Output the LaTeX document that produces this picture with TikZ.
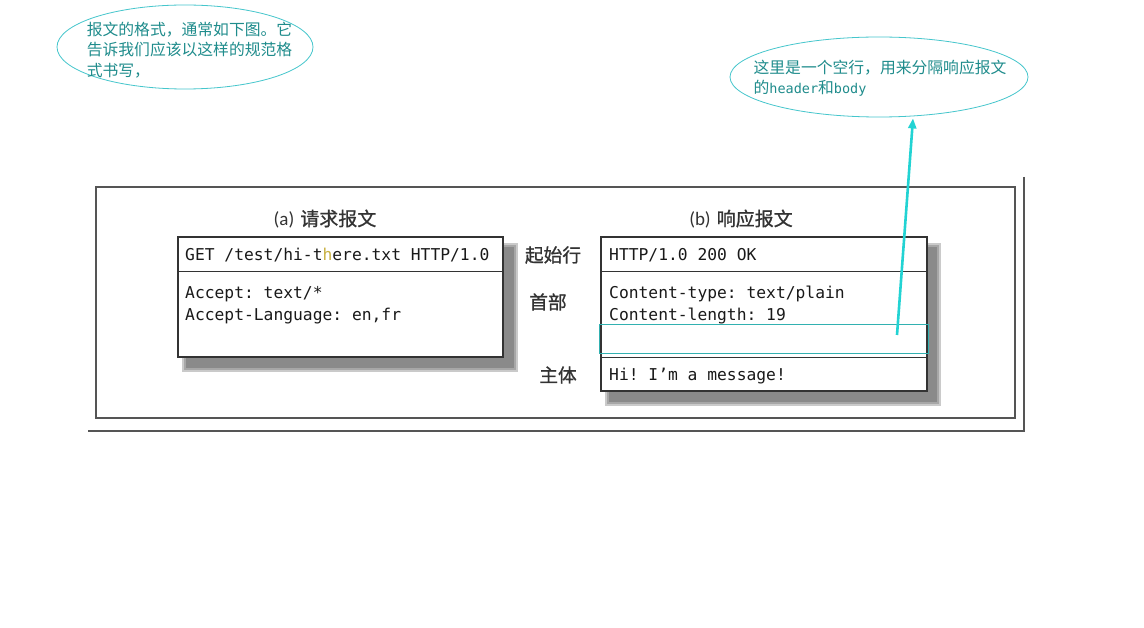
\documentclass[tikz,border=0pt]{standalone}
\usepackage{fontspec}
\setmainfont{Liberation Sans}
\setmonofont{DejaVu Sans Mono}
\newfontfamily\cjk{Noto Sans CJK SC}
\newfontfamily\cjklabel[FakeBold=0.9]{Noto Sans CJK SC}
\newfontfamily\latinlab{Carlito}
\usetikzlibrary{shapes.geometric,arrows.meta}
\definecolor{tealtext}{HTML}{1F8C8C}
\definecolor{cyanline}{HTML}{45C6CC}
\definecolor{cyanarrow}{HTML}{22D3D3}
\definecolor{framec}{HTML}{555555}
\definecolor{labelc}{HTML}{333333}
\definecolor{shadowc}{HTML}{8A8A8A}
\definecolor{hilite}{HTML}{C8B040}
\begin{document}
\begin{tikzpicture}[x=1pt,y=-1pt,
  msgbox/.style={rectangle, draw=black!80, line width=1.3pt, fill=white, inner sep=0pt},
  divider/.style={draw=black!80, line width=1.3pt},
  mono/.style={font=\ttfamily\fontsize{16.3}{22}\selectfont, anchor=base west, inner sep=0pt, text=black!90},
  seclabel/.style={font=\cjklabel\fontsize{18.7}{20}\selectfont, text=labelc, inner sep=0pt},
  bubble/.style={ellipse, draw=cyanline, line width=0.8pt, inner sep=0pt},
  bubbletext/.style={font=\cjk\fontsize{15.8}{20.5}\selectfont, text=tealtext, align=left, inner sep=0pt},
  shadowfill/.style={fill=shadowc},
  shadowblur/.style={fill=shadowc!45},
  shadowblurin/.style={fill=shadowc!75},
  framestyle/.style={draw=framec, line width=1.8pt},
  blankrow/.style={rectangle, draw=cyanarrow!80!black!90, line width=0.9pt, inner sep=0pt},
  pointer/.style={draw=cyanarrow, line width=2.6pt, -{Triangle[length=10pt,width=8pt]}}
]
\useasboundingbox[fill=white] (0,0) rectangle (1144,628);

% outer frame
\draw[framestyle] (96,187) rectangle (1015,418);
\draw[framestyle, line width=2.3pt] (1024,177) -- (1024,431) -- (88,431);

% shadows
\fill[shadowblur] (182,243) rectangle (518,372);
\fill[shadowblurin] (184,245) rectangle (516,370);
\fill[shadowfill] (186,247) rectangle (514,368);
\fill[shadowblur] (605,243) rectangle (941,406);
\fill[shadowblurin] (607,245) rectangle (939,404);
\fill[shadowfill] (609,247) rectangle (937,402);

% request message
\node[msgbox, minimum width=325pt, minimum height=120pt] (req) at (340.5,297) {};
\draw[divider] ([yshift=-35pt]req.north west) -- ([yshift=-35pt]req.north east);
\node[mono] (getline) at (185,261) {GET /test/hi-t\textcolor{hilite}{h}ere.txt HTTP/1.0};
\node[mono] (accept) at (185,299) {Accept: text/*};
\node[mono] (acceptlang) at (185,321) {Accept-Language: en,fr};

% response message
\node[msgbox, minimum width=326pt, minimum height=154pt] (resp) at (764,314) {};
\draw[divider] ([yshift=-35pt]resp.north west) -- ([yshift=-35pt]resp.north east);
\draw[divider] ([yshift=-121pt]resp.north west) -- ([yshift=-121pt]resp.north east);
\node[mono] (status) at (609,261) {HTTP/1.0 200 OK};
\node[mono] (ctype) at (609,299) {Content-type: text/plain};
\node[mono] (clen) at (609,321) {Content-length: 19};
\node[mono] (body) at (609,381) {Hi! I’m a message!};
\node[blankrow, minimum width=329pt, minimum height=29pt] (blank) at (763.5,339) {};

% titles
\node[seclabel, font=\cjklabel\fontsize{19}{20}\selectfont] (reqtitle) at (325,219) {{\latinlab (a)}\hspace{6pt}请求报文};
\node[seclabel, font=\cjklabel\fontsize{19}{20}\selectfont] (resptitle) at (741,219) {{\latinlab (b)}\hspace{6pt}响应报文};

% section labels
\node[seclabel] (startline) at (553,255) {起始行};
\node[seclabel] (headers) at (548,302) {首部};
\node[seclabel] (mainbody) at (558,375) {主体};

% callouts
\node[bubble, minimum width=256pt, minimum height=84pt] (e1) at (185,47) {};
\node[bubbletext] (t1) at (189.5,50) {报文的格式，通常如下图。它\\告诉我们应该以这样的规范格\\式书写，};
\node[bubble, minimum width=298pt, minimum height=80pt] (e2) at (879,77) {};
\node[bubbletext] (t2) at (880,78) {这里是一个空行，用来分隔响应报文\\的{\ttfamily\fontsize{13.5}{20.5}\selectfont header}和{\ttfamily\fontsize{13.5}{20.5}\selectfont body}};

% arrow
\coordinate (arrowstart) at (897,335);
\draw[pointer] (arrowstart) -- ([xshift=34pt,yshift=-1pt]e2.south);
\end{tikzpicture}
\end{document}
